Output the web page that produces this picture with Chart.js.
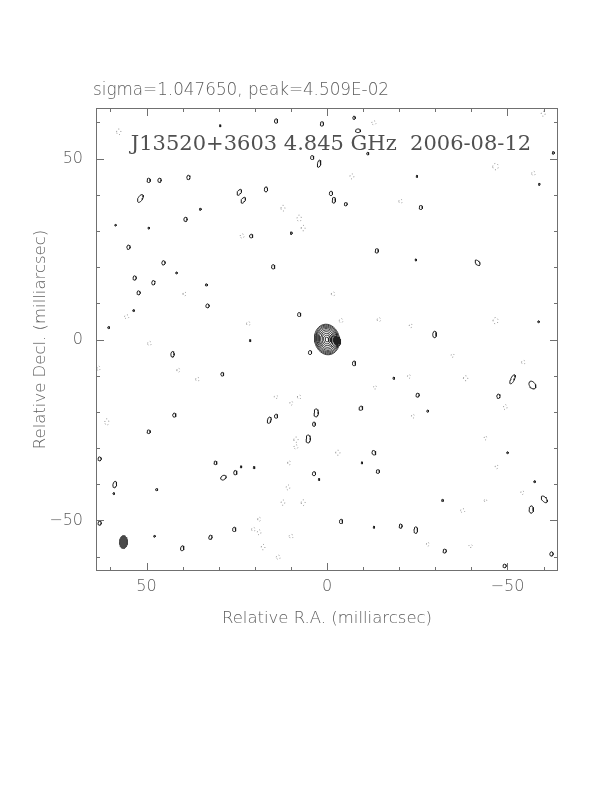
<!DOCTYPE html>
<html><head><meta charset="utf-8">
<script src="https://cdn.jsdelivr.net/npm/chart.js@4.4.0/dist/chart.umd.min.js"></script>
<style>html,body{margin:0;padding:0;background:#fff}#wrap{width:612px;height:792px;position:relative}</style>
</head><body><div id="wrap"><canvas id="c" width="612" height="792"></canvas></div>
<script>
// ---------- text ----------
const headerText = "sigma=1.047650, peak=4.509E-02";
const titleText = "J13520+3603 4.845 GHz  2006-08-12";
const xLabel = "Relative R.A. (milliarcsec)";
const yLabel = "Relative Decl. (milliarcsec)";
// ---------- axes ----------
const axisMin = -64, axisMax = 64;
const tickValues = [-60,-50,-40,-30,-20,-10,0,10,20,30,40,50,60];
const tickLabelValues = [50, 0, -50];
// ---------- core component: [rx, ry] per contour level (mas) ----------
const coreCenter = [0.0, 0.0];
const coreAngle = -12;
const coreLevels = [[3.45,4.25],[3.2,4.0],[2.95,3.7],[2.7,3.4],[2.4,3.05],[2.1,2.65],[1.75,2.2],[1.35,1.7],[0.95,1.2],[0.5,0.65]];
const coreLobes = [[-3.0,-0.6,0.8,1.2,0]];
// ---------- positive noise contours: [x, y, rx, ry, angle] ----------
const positiveBlobs = [
[14.1,60.4,0.45,0.6,0],[1.4,59.6,0.45,0.6,0],[29.6,59.1,0.22,0.28,0],[4.1,50.3,0.45,0.55,0],[2.2,48.6,0.45,1.0,10],
[-8.6,57.7,0.7,0.5,0],[-7.5,61.3,0.35,0.45,0],[-11.3,51.4,0.3,0.35,0],[49.4,44.0,0.45,0.6,0],[46.4,44.0,0.45,0.6,0],
[38.4,44.8,0.45,0.6,0],[51.7,39.0,0.6,1.2,30],[24.3,40.7,0.5,0.9,30],[23.2,38.5,0.5,0.9,30],[16.9,41.5,0.45,0.7,0],
[-1.1,40.4,0.45,0.6,0],[-1.9,38.5,0.45,0.8,0],[-5.2,37.4,0.4,0.45,0],[-26.0,36.5,0.45,0.55,0],[35.1,36.0,0.25,0.3,0],
[39.2,33.2,0.45,0.6,0],[49.4,30.8,0.22,0.28,0],[55.0,25.5,0.45,0.6,0],[21.0,28.6,0.45,0.5,0],[9.9,29.4,0.25,0.35,0],
[14.9,20.1,0.45,0.6,0],[45.3,21.2,0.45,0.6,0],[41.7,18.4,0.22,0.28,0],[53.3,17.0,0.45,0.6,0],[48.1,15.7,0.45,0.6,0],
[52.2,12.9,0.45,0.55,0],[33.4,15.1,0.3,0.3,0],[58.6,31.6,0.2,0.25,0],[-13.8,24.5,0.45,0.6,0],[-41.7,21.2,0.5,0.9,-40],
[-24.6,22.0,0.22,0.28,0],[-62.7,51.6,0.3,0.35,0],[-58.8,42.9,0.22,0.28,0],[-24.9,45.1,0.22,0.28,0],[33.1,9.3,0.45,0.55,0],
[60.5,3.3,0.25,0.3,0],[53.6,8.0,0.22,0.28,0],[7.7,6.9,0.45,0.55,0],[42.8,-4.1,0.45,0.8,0],[29.0,-9.6,0.4,0.5,0],
[4.7,-3.6,0.45,0.55,0],[42.3,-20.9,0.45,0.55,0],[49.4,-25.5,0.45,0.5,0],[16.0,-22.3,0.5,0.9,15],[14.1,-21.2,0.45,0.55,0],
[3.0,-20.3,0.6,1.1,0],[3.6,-23.4,0.4,0.6,0],[21.3,-0.3,0.22,0.28,0],[5.2,-27.5,0.6,1.1,0],[63.0,-33.0,0.45,0.55,0],
[30.9,-34.1,0.4,0.5,0],[25.4,-36.8,0.45,0.6,0],[28.7,-38.2,0.8,0.6,-30],[23.8,-35.2,0.22,0.28,0],[20.2,-35.4,0.25,0.3,0],
[3.6,-37.1,0.45,0.55,0],[2.2,-38.7,0.22,0.28,0],[58.8,-40.1,0.5,0.9,10],[47.2,-41.5,0.3,0.3,0],[59.1,-42.6,0.22,0.28,0],
[63.0,-50.8,0.45,0.55,0],[25.7,-52.5,0.45,0.6,0],[32.3,-54.7,0.45,0.6,10],[40.1,-57.7,0.45,0.7,10],[47.8,-54.4,0.22,0.28,0],
[-29.8,1.4,0.5,0.9,0],[-7.5,-6.6,0.45,0.65,0],[-51.4,-11.0,0.5,1.4,25],[-56.9,-12.6,0.8,1.2,-35],[-25.1,-15.4,0.45,0.55,0],
[-47.5,-15.7,0.45,0.6,0],[-9.4,-19.0,0.5,0.6,30],[-27.9,-19.8,0.25,0.3,0],[-18.5,-10.7,0.25,0.3,0],[-58.6,4.9,0.22,0.28,0],
[-13.0,-31.3,0.5,0.65,-30],[-14.1,-36.5,0.45,0.5,0],[-3.9,-50.3,0.45,0.6,0],[-20.4,-51.6,0.4,0.6,0],[-24.6,-52.7,0.5,0.9,0],
[-32.6,-58.5,0.45,0.55,0],[-32.0,-44.5,0.25,0.3,0],[-56.6,-47.0,0.6,1.0,0],[-60.2,-44.2,0.6,1.1,-40],[-62.2,-59.3,0.45,0.6,0],
[-49.2,-62.6,0.45,0.5,0],[-57.5,-39.3,0.22,0.28,0],[-50.0,-31.3,0.22,0.28,0],[-13.0,-51.9,0.22,0.28,0],[-9.7,-34.1,0.22,0.28,0]
];
// ---------- negative noise contours (dashed): [x, y, rx, ry, angle] ----------
const negativeBlobs = [
[57.7,57.4,0.6,0.8,0],[-13.0,59.9,0.6,0.55,0],[12.2,36.3,0.55,0.8,0],[7.7,33.5,0.6,0.9,0],[6.6,30.8,0.55,0.75,0],
[23.5,28.6,0.55,0.6,0],[-46.7,47.8,0.8,0.9,0],[-59.9,62.4,0.55,0.7,0],[-57.2,45.9,0.5,0.6,0],[-6.9,45.1,0.55,0.7,0],
[-20.4,38.2,0.5,0.55,0],[55.5,6.3,0.6,0.55,0],[49.2,-1.1,0.5,0.6,0],[41.2,-8.5,0.4,0.6,0],[35.9,-11.0,0.5,0.55,0],
[21.8,4.4,0.5,0.55,0],[39.5,12.6,0.4,0.6,0],[14.1,-15.9,0.55,0.4,0],[7.7,-15.9,0.5,0.55,0],[9.9,-17.6,0.4,0.55,0],
[61.0,-22.8,0.55,0.9,0],[8.6,-27.7,0.6,0.75,0],[8.6,-29.7,0.55,0.6,0],[10.5,-34.1,0.4,0.6,0],[10.8,-40.9,0.5,0.7,0],
[12.2,-45.1,0.5,0.75,0],[6.6,-45.1,0.55,0.8,0],[18.8,-49.7,0.4,0.6,0],[20.4,-52.5,0.5,0.55,0],[18.8,-53.3,0.5,0.7,0],
[17.7,-57.4,0.5,0.75,0],[13.5,-60.2,0.55,0.6,0],[9.9,-54.4,0.6,0.5,0],[-3.0,-31.3,0.6,0.7,0],[-37.6,-47.3,0.6,0.55,0],
[-47.0,-35.2,0.4,0.55,0],[-43.9,-44.5,0.35,0.4,0],[-54.1,-42.3,0.4,0.55,0],[-39.8,-57.1,0.5,0.4,0],[-27.9,-56.6,0.35,0.6,0],
[-43.9,-27.2,0.35,0.55,0],[-1.7,12.6,0.5,0.55,0],[-3.9,5.2,0.5,0.6,0],[-14.4,5.5,0.5,0.55,0],[-23.2,3.8,0.4,0.55,0],
[-46.7,5.2,0.7,0.9,0],[-38.4,-10.7,0.6,0.7,0],[-34.8,-4.4,0.4,0.5,0],[-22.7,-10.2,0.4,0.55,0],[-54.4,-6.3,0.5,0.55,0],
[-49.4,-18.7,0.5,0.7,0],[-23.8,-21.2,0.4,0.55,0],[-13.3,-13.2,0.4,0.5,0],[63.3,-8.0,0.4,0.7,0]
];
// ---------- restoring beam: [x, y, rx, ry, angle] ----------
const beam = [56.4, -56.0, 1.1, 1.8, 0];

// build closed outlines from the ellipse parameters; null separates contours
function outline(list, n) {
  const pts = [];
  list.forEach(([cx, cy, rx, ry, a]) => {
    const t = a * Math.PI / 180;
    for (let i = 0; i <= n; i++) {
      const p = 2 * Math.PI * i / n;
      const ex = rx * Math.cos(p), ey = ry * Math.sin(p);
      pts.push({x: cx + ex * Math.cos(t) - ey * Math.sin(t), y: cy + ex * Math.sin(t) + ey * Math.cos(t)});
    }
    pts.push({x: null, y: null});
  });
  return pts;
}
const coreList = coreLevels.map(([rx, ry]) => [coreCenter[0], coreCenter[1], rx, ry, coreAngle]).concat(coreLobes);

const fmt = v => v < 0 ? '\u2212' + Math.abs(v) : String(v);
const FONT = '"DejaVu Sans", "Liberation Sans", sans-serif';
const TXT = '#5c5c5c';

const decor = {
  id: 'decor',
  afterDraw(chart) {
    const {ctx, chartArea: a, scales: {x, y}} = chart;
    ctx.save();
    ctx.strokeStyle = '#707070';
    ctx.lineWidth = 1;
    ctx.strokeRect(a.left + 0.5, a.top + 0.5, a.right - a.left - 1, a.bottom - a.top - 1);
    ctx.beginPath();
    tickValues.forEach(v => {
      const len = tickLabelValues.includes(v) ? 8 : 4;
      const px = Math.round(x.getPixelForValue(v)) + 0.5;
      ctx.moveTo(px, a.bottom); ctx.lineTo(px, a.bottom - len);
      ctx.moveTo(px, a.top); ctx.lineTo(px, a.top + len);
      const py = Math.round(y.getPixelForValue(v)) + 0.5;
      ctx.moveTo(a.left, py); ctx.lineTo(a.left + len, py);
      ctx.moveTo(a.right, py); ctx.lineTo(a.right - len, py);
    });
    ctx.stroke();
    ctx.fillStyle = TXT;
    ctx.textBaseline = 'alphabetic';
    ctx.textAlign = 'left';
    ctx.font = '200 16.8px ' + FONT;
    ctx.fillText(headerText, 93, 95);
    ctx.textAlign = 'center';
    ctx.font = '21px "DejaVu Serif", "Liberation Serif", serif';
    ctx.fillStyle = '#505050';
    ctx.fillText(titleText, 331, 150);
    ctx.restore();
  }
};

new Chart(document.getElementById('c'), {
  type: 'scatter',
  data: {
    datasets: [
      {data: outline(negativeBlobs, 14), showLine: true, pointRadius: 0, borderColor: '#777', borderWidth: 0.8, borderDash: [1, 2.5], spanGaps: false, tension: 0},
      {data: outline(positiveBlobs, 20), showLine: true, pointRadius: 0, borderColor: '#1a1a1a', borderWidth: 1, spanGaps: false, tension: 0},
      {data: outline(coreList, 40), showLine: true, pointRadius: 0, borderColor: '#222', borderWidth: 0.9, spanGaps: false, tension: 0},
      {data: outline([beam], 32).slice(0, -1), showLine: true, pointRadius: 0, borderColor: '#444', borderWidth: 1, backgroundColor: '#4a4a4a', fill: 'shape', tension: 0}
    ]
  },
  options: {
    responsive: false, animation: false, devicePixelRatio: 1,
    layout: {padding: {left: 0, top: 108, right: 54, bottom: 163}},
    plugins: {legend: {display: false}, tooltip: {enabled: false}},
    scales: {
      x: {
        type: 'linear', min: axisMin, max: axisMax, reverse: true, position: 'bottom',
        grid: {display: false, drawTicks: false}, border: {display: false},
        ticks: {stepSize: 10, autoSkip: false, maxRotation: 0, padding: 6, color: TXT,
          font: {family: FONT, size: 16, weight: '200'},
          callback: v => tickLabelValues.includes(v) ? fmt(v) : null},
        title: {display: true, text: xLabel, color: TXT, font: {family: FONT, size: 16.5, weight: '200'}, padding: {top: 0, bottom: 0}},
        afterFit: s => { s.height = 58; }
      },
      y: {
        type: 'linear', min: axisMin, max: axisMax, position: 'left',
        grid: {display: false, drawTicks: false}, border: {display: false},
        ticks: {stepSize: 10, autoSkip: false, padding: 13, color: TXT,
          font: {family: FONT, size: 16, weight: '200'},
          callback: v => tickLabelValues.includes(v) ? fmt(v) : null},
        title: {display: true, text: yLabel, color: TXT, font: {family: FONT, size: 16.5, weight: '200'}, padding: {top: 31, bottom: 0}},
        afterFit: s => { s.width = 96; }
      }
    }
  },
  plugins: [decor]
});
</script></body></html>
